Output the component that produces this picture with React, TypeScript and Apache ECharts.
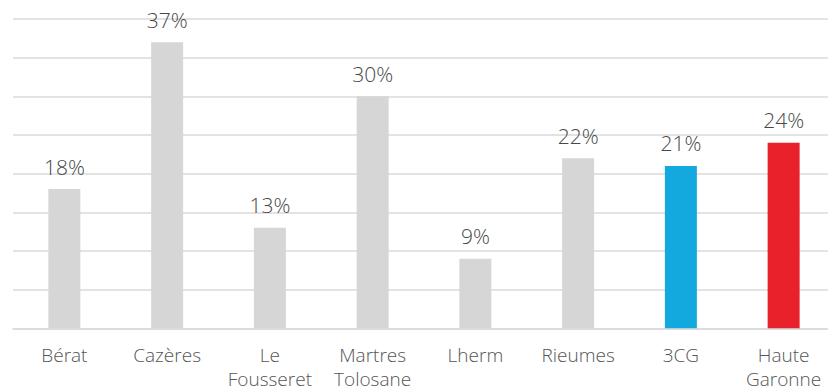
import React, { useEffect, useRef } from "react";
import * as echarts from "echarts";

const categories = ["Bérat", "Cazères", "Le\nFousseret", "Martres\nTolosane", "Lherm", "Rieumes", "3CG", "Haute\nGaronne"];
const values = [18, 37, 13, 30, 9, 22, 21, 24];
const barColors = ["#d5d6d5", "#d5d6d5", "#d5d6d5", "#d5d6d5", "#d5d6d5", "#d5d6d5", "#14a9de", "#e8212a"];

export default function App() {
  const ref = useRef<HTMLDivElement>(null);
  useEffect(() => {
    if (!ref.current) return;
    const chart = echarts.init(ref.current, undefined, { renderer: "svg" });
    chart.setOption({
      animation: false,
      backgroundColor: "#ffffff",
      grid: { left: 13, top: 19, width: 822, height: 309.3, containLabel: false, outerBoundsMode: "none" },
      xAxis: {
        type: "category",
        data: categories,
        axisLine: { show: true, lineStyle: { color: "#dadada", width: 1.5 } },
        axisTick: { show: false },
        axisLabel: {
          color: "#555555",
          fontFamily: "Open Sans",
          fontWeight: 300,
          fontSize: 19,
          lineHeight: 24,
          margin: 15,
          interval: 0,
        },
      },
      yAxis: {
        type: "value",
        min: 0,
        max: 40,
        interval: 5,
        axisLabel: { show: false },
        axisLine: { show: false },
        axisTick: { show: false },
        splitLine: { show: true, lineStyle: { color: "#dadada", width: 1.5 } },
      },
      series: [
        {
          type: "bar",
          barWidth: 32,
          data: values.map((v, i) => ({ value: v, itemStyle: { color: barColors[i] } })),
          label: {
            show: true,
            position: "top",
            distance: 12,
            formatter: "{c}%",
            color: "#474747",
            fontFamily: "Open Sans",
            fontWeight: 300,
            fontSize: 21,
          },
        },
      ],
    });
    return () => chart.dispose();
  }, []);
  return (
    <div style={{ position: "fixed", left: 0, top: 0, width: 828, height: 392, overflow: "hidden", background: "#fff" }}>
      <div ref={ref} style={{ width: 840, height: 392 }} />
    </div>
  );
}
